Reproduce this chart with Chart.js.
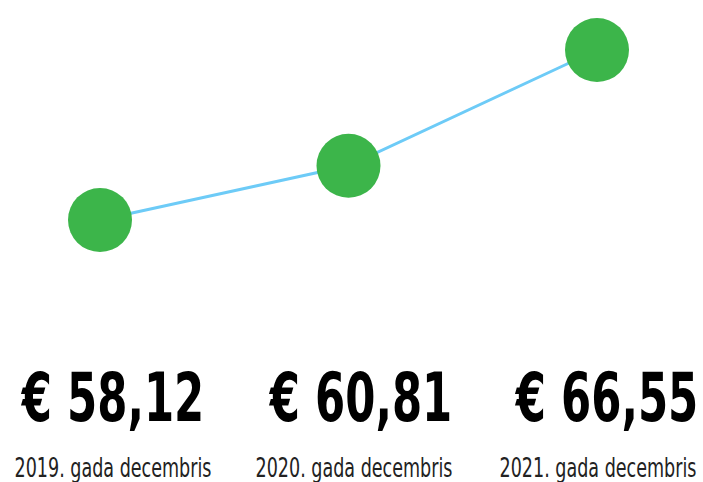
<!DOCTYPE html>
<html>
<head>
<meta charset="utf-8">
<script src="https://cdn.jsdelivr.net/npm/chart.js@4"></script>
<style>
  html, body { margin: 0; padding: 0; background: #fff; }
  #wrap { position: relative; width: 703px; height: 482px; overflow: hidden; }
  #plot { position: absolute; left: 0; top: 0; width: 703px; height: 300px; }
  .lbl { position: absolute; white-space: nowrap; text-align: center;
         font-family: "Liberation Sans Narrow", "DejaVu Sans Condensed", "Open Sans", sans-serif; font-stretch: condensed; }
  .val { font-size: 67px; font-weight: 700; color: #000; line-height: 1; transform: translateX(-50%) scaleX(0.72); }
  .sub { font-size: 26px; font-weight: 400; color: #222; line-height: 1; transform: translateX(-50%) scaleX(0.75); }
</style>
</head>
<body>
<div id="wrap">
  <div id="plot"><canvas id="chart1"></canvas></div>
  <div id="labels"></div>
</div>
<script>
var years = ['2019. gada decembris', '2020. gada decembris', '2021. gada decembris'];
var prices = [58.12, 60.81, 66.55];
var priceLabels = ['€ 58,12', '€ 60,81', '€ 66,55'];

// label column centres (px) for the big value and the subtitle
var valCenters = [113, 361, 607];
var subCenters = [113, 354, 598];

var labelsDiv = document.getElementById('labels');
for (var i = 0; i < years.length; i++) {
  var v = document.createElement('div');
  v.className = 'lbl val';
  v.style.left = valCenters[i] + 'px';
  v.style.top = '365px';
  v.textContent = priceLabels[i];
  labelsDiv.appendChild(v);
  var s = document.createElement('div');
  s.className = 'lbl sub';
  s.style.left = subCenters[i] + 'px';
  s.style.top = '455px';
  s.textContent = years[i];
  labelsDiv.appendChild(s);
}

var chart1 = new Chart(document.getElementById('chart1'), {
  type: 'line',
  data: {
    labels: years,
    datasets: [{
      data: prices,
      borderColor: '#6dcbf7',
      borderWidth: 3,
      pointRadius: 32,
      pointHoverRadius: 32,
      pointBackgroundColor: '#3cb54a',
      pointBorderColor: '#3cb54a',
      pointBorderWidth: 0,
      tension: 0,
      clip: false
    }]
  },
  options: {
    responsive: true,
    maintainAspectRatio: false,
    animation: false,
    layout: { padding: { left: 100, right: 106, top: 50, bottom: 80 } },
    plugins: { legend: { display: false }, tooltip: { enabled: false } },
    scales: {
      x: { display: false },
      y: { display: false, min: Math.min.apply(null, prices), max: Math.max.apply(null, prices) }
    }
  }
});
</script>
</body>
</html>
